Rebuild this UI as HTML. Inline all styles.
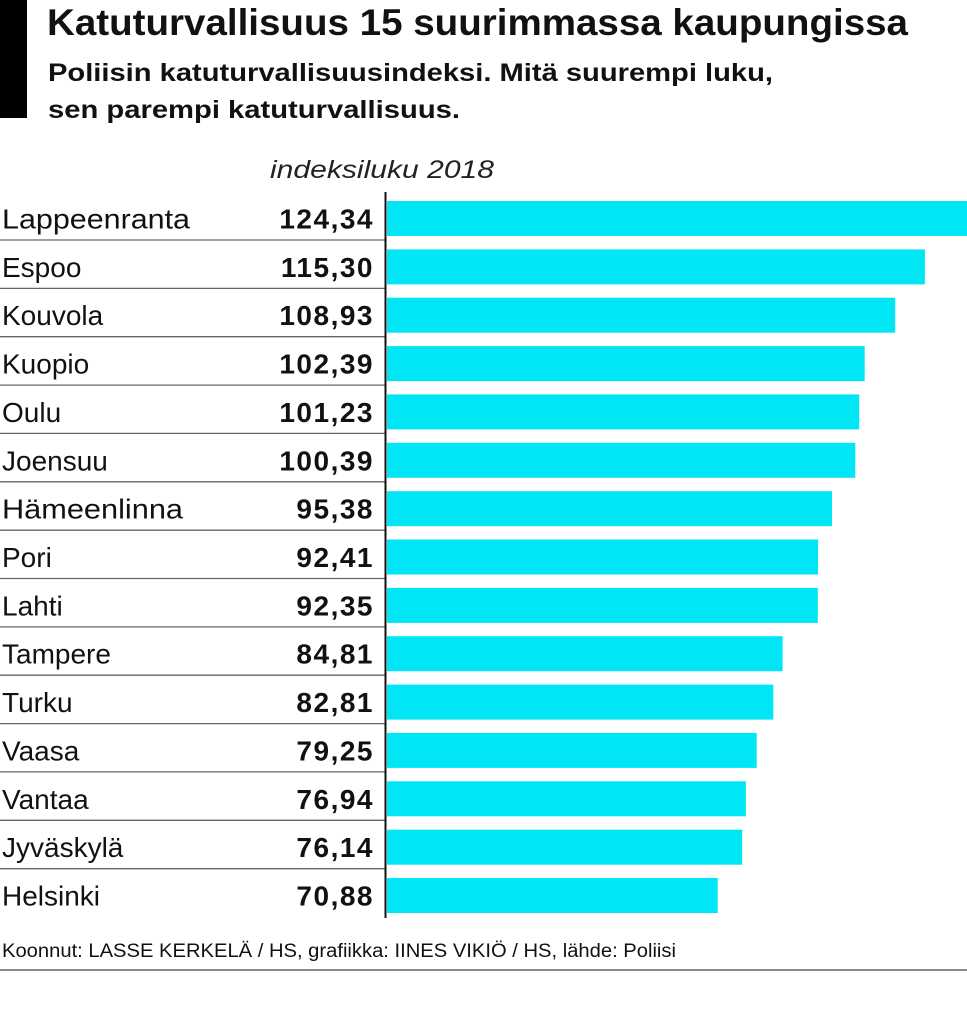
<!DOCTYPE html>
<html><head><meta charset="utf-8"><style>
html,body{margin:0;padding:0;background:#fff;}
svg{display:block;font-family:"Liberation Sans",sans-serif;}
</style></head><body>
<svg width="967" height="1024" viewBox="0 0 967 1024" xmlns="http://www.w3.org/2000/svg">
<rect x="0" y="0" width="967" height="1024" fill="#fff"/>
<rect x="0" y="0" width="27" height="118" fill="#000"/>
<text x="47" y="35" font-size="37" font-weight="bold" fill="#111" textLength="861" lengthAdjust="spacingAndGlyphs">Katuturvallisuus 15 suurimmassa kaupungissa</text>
<text x="48" y="81" font-size="25" font-weight="bold" fill="#111" textLength="725" lengthAdjust="spacingAndGlyphs">Poliisin katuturvallisuusindeksi. Mitä suurempi luku,</text>
<text x="48" y="118" font-size="25" font-weight="bold" fill="#111" textLength="412" lengthAdjust="spacingAndGlyphs">sen parempi katuturvallisuus.</text>
<text x="270" y="178" font-size="25" font-style="italic" fill="#222" textLength="224" lengthAdjust="spacingAndGlyphs">indeksiluku 2018</text>
<g fill="#00e6f4">
<rect x="387" y="201.0" width="580" height="35"/>
<rect x="387" y="249.4" width="537.9" height="35"/>
<rect x="387" y="297.7" width="508.2" height="35"/>
<rect x="387" y="346.1" width="477.7" height="35"/>
<rect x="387" y="394.4" width="472.2" height="35"/>
<rect x="387" y="442.8" width="468.3" height="35"/>
<rect x="387" y="491.2" width="445.0" height="35"/>
<rect x="387" y="539.5" width="431.1" height="35"/>
<rect x="387" y="587.9" width="430.8" height="35"/>
<rect x="387" y="636.2" width="395.6" height="35"/>
<rect x="387" y="684.6" width="386.3" height="35"/>
<rect x="387" y="732.9" width="369.7" height="35"/>
<rect x="387" y="781.3" width="358.9" height="35"/>
<rect x="387" y="829.7" width="355.2" height="35"/>
<rect x="387" y="878.0" width="330.7" height="35"/>
</g>
<g font-size="28" fill="#111">
<text x="2" y="228.5" textLength="188" lengthAdjust="spacingAndGlyphs">Lappeenranta</text>
<text x="2" y="276.9">Espoo</text>
<text x="2" y="325.2">Kouvola</text>
<text x="2" y="373.6">Kuopio</text>
<text x="2" y="421.9">Oulu</text>
<text x="2" y="470.3">Joensuu</text>
<text x="2" y="518.7" textLength="181" lengthAdjust="spacingAndGlyphs">Hämeenlinna</text>
<text x="2" y="567.0">Pori</text>
<text x="2" y="615.4">Lahti</text>
<text x="2" y="663.7">Tampere</text>
<text x="2" y="712.1">Turku</text>
<text x="2" y="760.4">Vaasa</text>
<text x="2" y="808.8">Vantaa</text>
<text x="2" y="857.2">Jyväskylä</text>
<text x="2" y="905.5">Helsinki</text>
</g>
<g font-size="28" fill="#111" font-weight="bold" text-anchor="end" letter-spacing="1.5">
<text x="374" y="228.5">124,34</text>
<text x="374" y="276.9">115,30</text>
<text x="374" y="325.2">108,93</text>
<text x="374" y="373.6">102,39</text>
<text x="374" y="421.9">101,23</text>
<text x="374" y="470.3">100,39</text>
<text x="374" y="518.7">95,38</text>
<text x="374" y="567.0">92,41</text>
<text x="374" y="615.4">92,35</text>
<text x="374" y="663.7">84,81</text>
<text x="374" y="712.1">82,81</text>
<text x="374" y="760.4">79,25</text>
<text x="374" y="808.8">76,94</text>
<text x="374" y="857.2">76,14</text>
<text x="374" y="905.5">70,88</text>
</g>
<g stroke="#666" stroke-width="1.3">
<line x1="0" y1="240.0" x2="385" y2="240.0"/>
<line x1="0" y1="288.4" x2="385" y2="288.4"/>
<line x1="0" y1="336.7" x2="385" y2="336.7"/>
<line x1="0" y1="385.1" x2="385" y2="385.1"/>
<line x1="0" y1="433.4" x2="385" y2="433.4"/>
<line x1="0" y1="481.8" x2="385" y2="481.8"/>
<line x1="0" y1="530.2" x2="385" y2="530.2"/>
<line x1="0" y1="578.5" x2="385" y2="578.5"/>
<line x1="0" y1="626.9" x2="385" y2="626.9"/>
<line x1="0" y1="675.2" x2="385" y2="675.2"/>
<line x1="0" y1="723.6" x2="385" y2="723.6"/>
<line x1="0" y1="771.9" x2="385" y2="771.9"/>
<line x1="0" y1="820.3" x2="385" y2="820.3"/>
<line x1="0" y1="868.7" x2="385" y2="868.7"/>
</g>
<line x1="385.5" y1="192" x2="385.5" y2="918" stroke="#111" stroke-width="2"/>
<text x="2" y="957" font-size="19" fill="#111" textLength="674" lengthAdjust="spacingAndGlyphs">Koonnut: LASSE KERKELÄ / HS, grafiikka: IINES VIKIÖ / HS, lähde: Poliisi</text>
<line x1="0" y1="970" x2="967" y2="970" stroke="#888" stroke-width="2"/>
</svg>
</body></html>
